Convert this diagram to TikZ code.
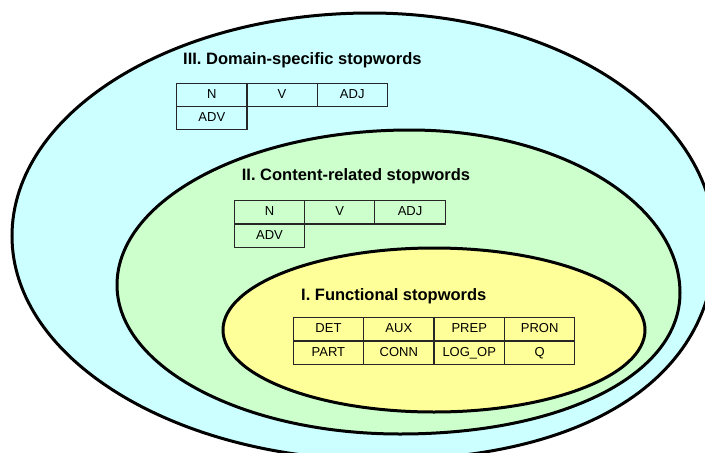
\documentclass[tikz,border=0pt]{standalone}
\usepackage{fontspec}
\setmainfont{Liberation Sans}
\definecolor{domainfill}{HTML}{CCFFFF}
\definecolor{contentfill}{HTML}{CCFFCC}
\definecolor{funcfill}{HTML}{FFFF99}
\begin{document}
\begin{tikzpicture}[x=1pt,y=-1pt,
  setring/.style={draw=black,line width=3pt},
  settitle/.style={anchor=west,inner sep=0pt,font=\fontsize{16.5}{19}\selectfont\bfseries},
  cell/.style={draw=black!85,line width=1.1pt,anchor=north west,inner sep=0pt,outer sep=0pt,
    minimum width=70.3pt,minimum height=23.3pt,text height=9.4pt,text depth=2.6pt,
    font=\fontsize{13}{15}\selectfont}]
\useasboundingbox (0,0) rectangle (705,453);
\clip (0,0) rectangle (705,453);
% III: domain-specific set (slightly egg-shaped outline)
\draw[setring,fill=domainfill]
  (12,236) .. controls (12,112.8) and (172.3,13) .. (370,13)
           .. controls (560.5,13) and (715,116) .. (715,243)
           .. controls (715,377.5) and (587.7,460) .. (380,460)
           .. controls (176.8,460) and (12,359.7) .. (12,236) -- cycle;
% II: content-related set
\draw[setring,fill=contentfill]
  (117,285) .. controls (117,199.4) and (248.2,130) .. (410,130)
            .. controls (559.1,130) and (680,203) .. (680,293)
            .. controls (680,374.8) and (562.4,434) .. (400,434)
            .. controls (243.7,434) and (117,367.3) .. (117,285) -- cycle;
% I: functional set
\draw[setring,fill=funcfill] (434,330) ellipse[x radius=211,y radius=82];
% III. Domain-specific stopwords
\node[settitle] (t3) at (183,60) {III. Domain-specific stopwords};
\node[cell] (d1) at (176.7,83.3) {N};
\node[cell] (d2) at (246.9,83.3) {V};
\node[cell] (d3) at (317.1,83.3) {ADJ};
\node[cell] (d4) at (176.7,106.6) {ADV};
% II. Content-related stopwords
\node[settitle] (t2) at (241.7,176.7) {II. Content-related stopwords};
\node[cell] (c1) at (234.3,200.7) {N};
\node[cell] (c2) at (304.6,200.7) {V};
\node[cell] (c3) at (374.9,200.7) {ADJ};
\node[cell] (c4) at (234.3,224.0) {ADV};
% I. Functional stopwords
\node[settitle] (t1) at (301,296.7) {I. Functional stopwords};
\node[cell] (f1) at (293.3,317.7) {DET};
\node[cell] (f2) at (363.7,317.7) {AUX};
\node[cell] (f3) at (434.1,317.7) {PREP};
\node[cell] (f4) at (504.5,317.7) {PRON};
\node[cell] (f5) at (293.3,341.0) {PART};
\node[cell] (f6) at (363.7,341.0) {CONN};
\node[cell] (f7) at (434.1,341.0) {LOG\_OP};
\node[cell] (f8) at (504.5,341.0) {Q};
\end{tikzpicture}
\end{document}
